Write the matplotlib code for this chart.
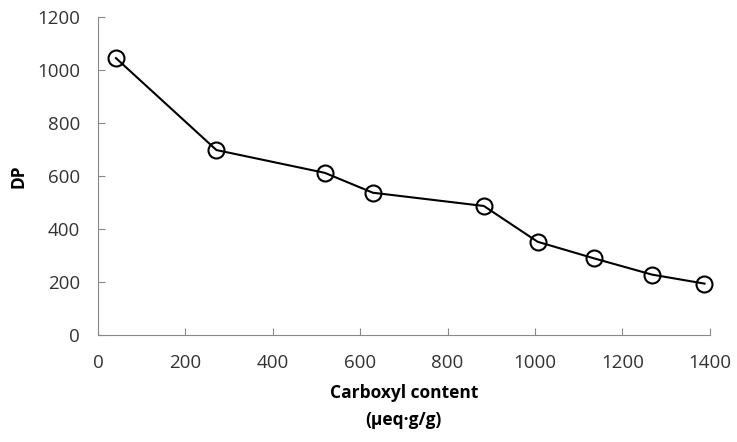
import matplotlib
matplotlib.use("Agg")
import matplotlib.pyplot as plt

carboxyl = [41, 271, 519, 629, 883, 1006, 1136, 1268, 1388]
dp = [1045, 698, 612, 537, 487, 352, 289, 228, 194]
xticks = [0, 200, 400, 600, 800, 1000, 1200, 1400]
yticks = [0, 200, 400, 600, 800, 1000, 1200]

plt.rcParams['font.family'] = ['Open Sans', 'DejaVu Sans']

fig = plt.figure(figsize=(7.37, 4.42), dpi=100)
ax = fig.add_axes([0.133, 0.242, 0.830, 0.7195])
ax.plot(carboxyl, dp, color='black', lw=1.5, marker='o', markersize=11.5,
        markerfacecolor='none', markeredgecolor='black', markeredgewidth=1.5,
        clip_on=False)
ax.set_xlim(0, 1400)
ax.set_ylim(0, 1200)
ax.set_xticks(xticks)
ax.set_yticks(yticks)
ax.tick_params(direction='in', length=5, width=0.8, color='#888888',
               labelsize=13.5, labelcolor='#333333')
ax.tick_params(axis='y', pad=13)
ax.tick_params(axis='x', pad=14)
for s in ['top', 'right']:
    ax.spines[s].set_visible(False)
for s in ['left', 'bottom']:
    ax.spines[s].set_color('#888888')
    ax.spines[s].set_linewidth(0.8)
ax.set_xlabel('Carboxyl content\n(μeq·g/g)', fontsize=12.5, fontweight='bold',
              labelpad=8, linespacing=1.65)
ax.set_ylabel('DP', fontsize=12.5, fontweight='bold', labelpad=7)
fig.savefig('out.png', dpi=100)
